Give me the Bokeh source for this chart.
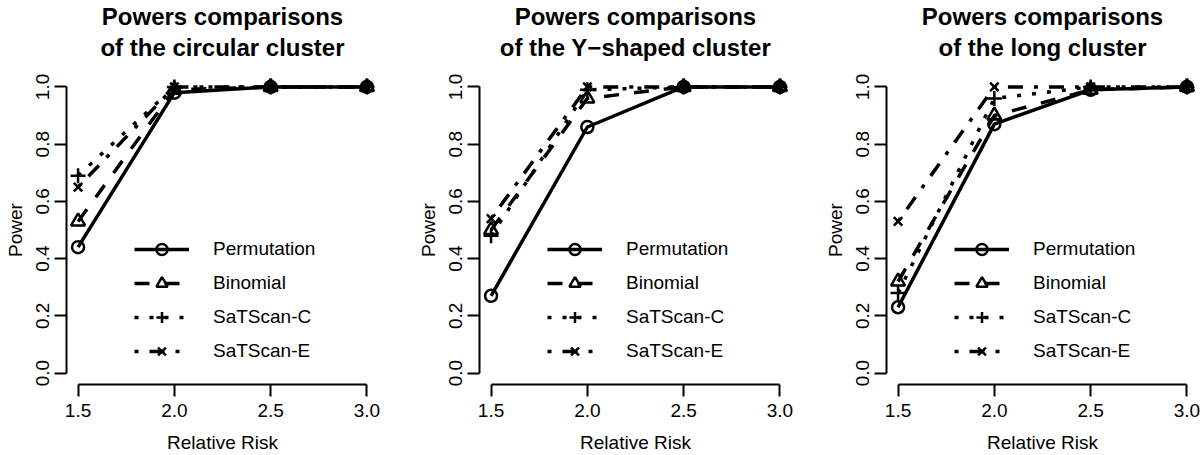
from bokeh.plotting import figure
from bokeh.models import Range1d, FixedTicker, Legend, LegendItem, Title, NumeralTickFormatter
from bokeh.layouts import row
from bokeh.embed import file_html
from bokeh.resources import INLINE

# ---------------- data ----------------
relative_risk = [1.5, 2.0, 2.5, 3.0]
series_names = ["Permutation", "Binomial", "SaTScan-C", "SaTScan-E"]

circular_permutation = [0.44, 0.98, 1.00, 1.00]
circular_binomial = [0.53, 0.99, 1.00, 1.00]
circular_satscan_c = [0.69, 1.00, 1.00, 1.00]
circular_satscan_e = [0.65, 1.00, 1.00, 1.00]

yshaped_permutation = [0.27, 0.86, 1.00, 1.00]
yshaped_binomial = [0.50, 0.96, 1.00, 1.00]
yshaped_satscan_c = [0.48, 0.99, 1.00, 1.00]
yshaped_satscan_e = [0.54, 1.00, 1.00, 1.00]

long_permutation = [0.23, 0.87, 0.99, 1.00]
long_binomial = [0.32, 0.90, 0.99, 1.00]
long_satscan_c = [0.28, 0.96, 1.00, 1.00]
long_satscan_e = [0.53, 1.00, 1.00, 1.00]

x_ticks = [1.5, 2.0, 2.5, 3.0]
y_ticks = [0.0, 0.2, 0.4, 0.6, 0.8, 1.0]

titles = [
    ("Powers comparisons", "of the circular cluster"),
    ("Powers comparisons", "of the Y\u2212shaped cluster"),
    ("Powers comparisons", "of the long cluster"),
]
x_label = "Relative Risk"
y_label = "Power"

# ---------------- styles ----------------
FONT = "Liberation Sans"
dashes = ["solid", "15 15", "4 11", "4 11 15 11"]
markers = ["circle", "triangle", "cross", "x"]
marker_sizes = [12, 14, 15, 12]


def make_title(text, standoff):
    return Title(text=text, standoff=standoff, align="center", text_font=FONT,
                 text_font_style="bold", text_font_size="24px", text_color="black")


def make_panel(title_lines, series, width, left, right):
    p = figure(width=width, height=455, output_backend="svg", toolbar_location=None,
               x_range=Range1d(1.44, 3.06), y_range=Range1d(-0.04, 1.04),
               min_border_left=left, min_border_right=right,
               min_border_top=75, min_border_bottom=69, title=None)
    p.outline_line_color = None
    p.grid.visible = False
    p.background_fill_color = "white"
    p.border_fill_color = "white"

    p.add_layout(make_title(title_lines[1], 29), "above")
    p.add_layout(make_title(title_lines[0], -24), "above")

    for ax, ticks, bounds, lab in ((p.xaxis[0], x_ticks, (1.5, 3.0), x_label),
                                   (p.yaxis[0], y_ticks, (0.0, 1.0), y_label)):
        ax.ticker = FixedTicker(ticks=ticks)
        ax.formatter = NumeralTickFormatter(format="0.0")
        ax.bounds = bounds
        ax.axis_label = lab
        ax.axis_line_width = 2
        ax.axis_line_color = "black"
        ax.major_tick_line_width = 2
        ax.major_tick_line_color = "black"
        ax.major_tick_out = 12
        ax.major_tick_in = 0
        ax.minor_tick_line_color = None
        ax.major_label_text_font = FONT
        ax.major_label_text_font_size = "19px"
        ax.major_label_text_color = "black"
        ax.axis_label_text_font = FONT
        ax.axis_label_text_font_size = "19px"
        ax.axis_label_text_font_style = "normal"
        ax.axis_label_text_color = "black"
    p.xaxis.major_label_standoff = 7
    p.xaxis.axis_label_standoff = 12
    p.yaxis.major_label_standoff = 5
    p.yaxis.axis_label_standoff = 8
    p.yaxis.major_label_orientation = "vertical"

    items = []
    for name, vals, dash, mk, ms in zip(series_names, series, dashes, markers, marker_sizes):
        lr = p.line(relative_risk, vals, line_color="black", line_width=3.5, line_dash=dash)
        sr = p.scatter(relative_risk, vals, marker=mk, size=ms, line_color="black",
                       line_width=2.5, fill_color=None)
        items.append(LegendItem(label=name, renderers=[lr, sr]))

    legend = Legend(items=items, location=(68, 19), padding=0, margin=0, spacing=6,
                    glyph_width=55, glyph_height=28, label_height=28, label_standoff=24,
                    label_text_font=FONT, label_text_font_size="19px", label_text_color="black",
                    border_line_color=None, background_fill_alpha=0)
    p.add_layout(legend)
    return p


p1 = make_panel(titles[0], [circular_permutation, circular_binomial, circular_satscan_c, circular_satscan_e],
                414, 66, 36)
p2 = make_panel(titles[1], [yshaped_permutation, yshaped_binomial, yshaped_satscan_c, yshaped_satscan_e],
                407, 65, 30)
p3 = make_panel(titles[2], [long_permutation, long_binomial, long_satscan_c, long_satscan_e],
                379, 65, 2)

layout = row(p1, p2, p3)
open("out.html", "w").write(file_html(layout, INLINE))
